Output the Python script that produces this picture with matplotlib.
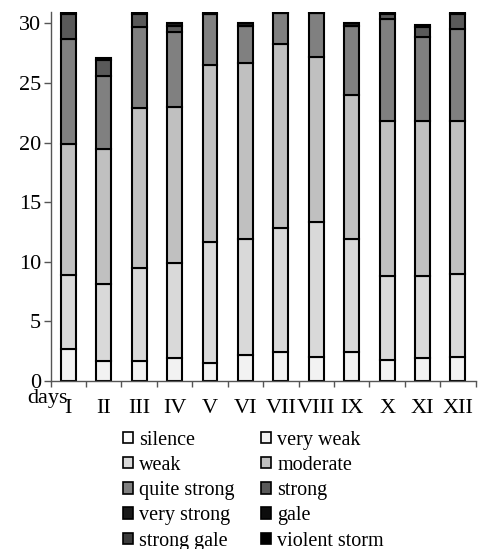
import numpy as np
import matplotlib
matplotlib.use('Agg')
import matplotlib.pyplot as plt
from matplotlib.patches import Patch

plt.rcParams['font.family'] = ['Liberation Serif', 'DejaVu Serif']

months = ['I', 'II', 'III', 'IV', 'V', 'VI', 'VII', 'VIII', 'IX', 'X', 'XI', 'XII']

classes = ['silence', 'very weak', 'weak', 'moderate', 'quite strong',
           'strong', 'very strong', 'gale', 'strong gale', 'violent storm']
colors = ['#fafafa', '#f2f2f2', '#d9d9d9', '#c0c0c0', '#808080',
          '#595959', '#1a1a1a', '#0d0d0d', '#3c3c3c', '#000000']

# mean number of days per month in each wind class
silence = [0, 0, 0, 0, 0, 0, 0, 0, 0, 0, 0, 0]
very_weak = [2.7, 1.7, 1.7, 1.9, 1.5, 2.2, 2.4, 2.0, 2.4, 1.8, 1.9, 2.0]
weak = [6.2, 6.4, 7.8, 8.0, 10.2, 9.7, 10.4, 11.3, 9.5, 7.0, 6.9, 7.0]
moderate = [11.0, 11.4, 13.4, 13.1, 14.8, 14.8, 15.5, 13.9, 12.1, 13.0, 13.0, 12.8]
quite_strong = [8.8, 6.1, 6.8, 6.3, 4.3, 3.1, 2.6, 3.7, 5.8, 8.6, 7.1, 7.7]
strong = [2.1, 1.3, 1.1, 0.5, 0.0, 0.0, 0.0, 0.0, 0.0, 0.4, 0.8, 1.3]
very_strong = [0.2, 0.2, 0.2, 0.2, 0.2, 0.2, 0.1, 0.1, 0.2, 0.2, 0.2, 0.2]
gale = [0, 0, 0, 0, 0, 0, 0, 0, 0, 0, 0, 0]
strong_gale = [0, 0, 0, 0, 0, 0, 0, 0, 0, 0, 0, 0]
violent_storm = [0, 0, 0, 0, 0, 0, 0, 0, 0, 0, 0, 0]

series = [silence, very_weak, weak, moderate, quite_strong, strong,
          very_strong, gale, strong_gale, violent_storm]

fig = plt.figure(figsize=(4.78, 5.49), dpi=100)
ax = fig.add_axes([0.106, 0.306, 0.889, 0.673])

x = np.arange(len(months)) + 0.5
bottom = np.zeros(len(months))
for vals, c in zip(series, colors):
    vals = np.array(vals, dtype=float)
    if vals.sum() == 0:
        continue
    ax.bar(x, vals, width=0.42, bottom=bottom, color=c,
           edgecolor='black', linewidth=1.5)
    bottom += vals

ax.set_xlim(0, 12)
ax.set_ylim(0, 31)
ax.set_yticks(range(0, 31, 5))
ax.set_xticks(x)
ax.set_xticklabels(months)
ax.set_xticks(np.arange(0, 13), minor=True)
ax.tick_params(axis='x', which='major', length=0, pad=13, labelsize=16)
ax.tick_params(axis='x', which='minor', length=4, width=1, color='#555555', direction='out')
ax.tick_params(axis='y', length=5, width=1, color='#555555', pad=2, labelsize=16)
for side in ['top', 'right']:
    ax.spines[side].set_visible(False)
for side in ['left', 'bottom']:
    ax.spines[side].set_color('#555555')
    ax.spines[side].set_linewidth(1)

fig.text(27 / 478, 1 - 403 / 549, 'days', fontsize=16, va='baseline', ha='left')

# legend laid out row by row in two columns
handles = [Patch(facecolor=c, edgecolor='black', linewidth=1.2) for c in colors]
order = [0, 2, 4, 6, 8, 1, 3, 5, 7, 9]
fig.legend([handles[i] for i in order], [classes[i] for i in order],
           ncol=2, loc='upper left', bbox_to_anchor=(0.237, 0.234),
           frameon=False, fontsize=14.5, handlelength=0.5, handleheight=0.5,
           handletextpad=0.3, columnspacing=1.3, labelspacing=0.31,
           borderpad=0)

fig.savefig('out.png', dpi=100)
